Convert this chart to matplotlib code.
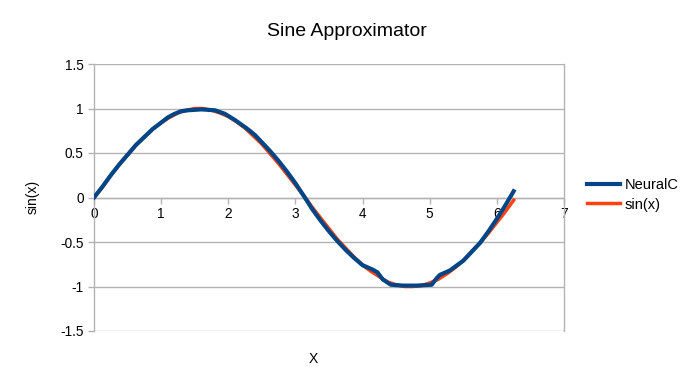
import matplotlib
matplotlib.use("Agg")
import matplotlib.pyplot as plt

plt.rcParams['font.family'] = ['Liberation Sans', 'DejaVu Sans']
plt.rcParams['axes.unicode_minus'] = False

# --- dati ---
sin_x = [0.0, 0.125, 0.25, 0.375, 0.5, 0.625, 0.75, 0.875, 1.0, 1.125, 1.25, 1.375, 1.5,
         1.625, 1.75, 1.875, 2.0, 2.125, 2.25, 2.375, 2.5, 2.625, 2.75, 2.875, 3.0,
         3.125, 3.25, 3.375, 3.5, 3.625, 3.75, 3.875, 4.0, 4.125, 4.25, 4.375, 4.5,
         4.625, 4.75, 4.875, 5.0, 5.125, 5.25, 5.375, 5.5, 5.625, 5.75, 5.875, 6.0,
         6.125, 6.25]
sin_y = [0.0, 0.12, 0.25, 0.37, 0.48, 0.59, 0.68, 0.77, 0.84, 0.9, 0.95, 0.98, 1.0,
         1.0, 0.98, 0.95, 0.91, 0.85, 0.78, 0.69, 0.6, 0.49, 0.38, 0.26, 0.14,
         0.02, -0.11, -0.23, -0.35, -0.47, -0.57, -0.67, -0.76, -0.83, -0.89, -0.95, -0.98,
         -1.0, -1.0, -0.99, -0.96, -0.92, -0.86, -0.79, -0.71, -0.61, -0.51, -0.4, -0.28,
         -0.16, -0.03]

neural_x = [0.0, 0.125, 0.25, 0.375, 0.5, 0.625, 0.75, 0.875, 0.98, 1.1, 1.2, 1.3, 1.4,
            1.6, 1.8, 1.95, 2.1, 2.25, 2.32, 2.4, 2.5, 2.625, 2.75, 2.875, 3.0, 3.14,
            3.25, 3.375, 3.5, 3.625, 3.75, 3.875, 4.0, 4.15, 4.22, 4.3, 4.42, 4.6, 4.8,
            5.03, 5.1, 5.15, 5.3, 5.5, 5.625, 5.75, 5.875, 6.0, 6.125, 6.25]
neural_y = [0.0, 0.12, 0.25, 0.37, 0.48, 0.59, 0.68, 0.77, 0.83, 0.9, 0.94, 0.97, 0.98,
            0.99, 0.98, 0.94, 0.87, 0.79, 0.75, 0.7, 0.62, 0.52, 0.41, 0.29, 0.16, 0.0,
            -0.13, -0.26, -0.38, -0.49, -0.59, -0.68, -0.76, -0.81, -0.84, -0.92, -0.98, -0.99, -0.99,
            -0.98, -0.91, -0.87, -0.82, -0.71, -0.61, -0.51, -0.38, -0.24, -0.09, 0.07]

x_ticks = [0, 1, 2, 3, 4, 5, 6, 7]
y_ticks = [-1.5, -1, -0.5, 0, 0.5, 1, 1.5]
y_labels = ['-1.5', '-1', '-0.5', '0', '0.5', '1', '1.5']

grid_col = '#b3b3b3'

# --- figura ---
fig = plt.figure(figsize=(6.93, 3.90), dpi=100)
ax = fig.add_axes([94 / 693, 1 - 331 / 390, 470 / 693, 267 / 390])

ax.plot(sin_x, sin_y, color='#ff420e', lw=2.5, label='sin(x)', zorder=3)
ax.plot(neural_x, neural_y, color='#004586', lw=3.0, label='NeuralC', zorder=4)

ax.set_xlim(0, 7)
ax.set_ylim(-1.5, 1.5)
ax.set_xticks(x_ticks)
ax.set_yticks(y_ticks)
ax.set_yticklabels(y_labels)

ax.yaxis.grid(True, color=grid_col, lw=1)
ax.set_axisbelow(True)

ax.spines['bottom'].set_position(('data', 0))
ax.spines['top'].set_visible(False)
for s in ['bottom', 'left', 'right']:
    ax.spines[s].set_color(grid_col)
    ax.spines[s].set_linewidth(1)
ax.tick_params(colors=grid_col, labelcolor='black', labelsize=9.8, length=4, width=1)
ax.tick_params(axis='x', pad=3)

# titolo ed etichette assi
fig.text(346.5 / 693, 1 - 32 / 390, 'Sine Approximator', ha='center', va='center', fontsize=14)
fig.text(33 / 693, 1 - 197 / 390, 'sin(x)', rotation=90, ha='center', va='center', fontsize=10)
fig.text(313 / 693, 1 - 359 / 390, 'X', ha='center', va='center', fontsize=10)

# legenda
handles, labels = ax.get_legend_handles_labels()
fig.legend(handles[::-1], labels[::-1], loc='center left', bbox_to_anchor=(587 / 693, 1 - 195 / 390),
           frameon=False, fontsize=10.5, handlelength=2.25, handletextpad=0.35,
           labelspacing=0.35, borderpad=0, borderaxespad=0)

fig.savefig('out.png', dpi=100)
